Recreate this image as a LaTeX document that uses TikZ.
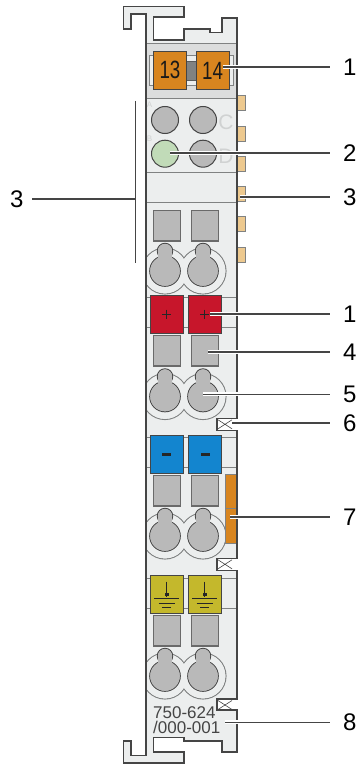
\documentclass[tikz,border=0pt]{standalone}
\usepackage{graphicx}
\usepackage{fontspec}
\setmainfont{Liberation Sans}
\definecolor{bodyc}{HTML}{ECEEEE}
\definecolor{headc}{HTML}{DCDDDD}
\definecolor{linec}{HTML}{454545}
\definecolor{softl}{HTML}{808282}
\definecolor{greyc}{HTML}{B9B9B9}
\definecolor{orangec}{HTML}{D8851F}
\definecolor{redc}{HTML}{C7162B}
\definecolor{bluec}{HTML}{1385CF}
\definecolor{yellowc}{HTML}{C4B82C}
\definecolor{greenc}{HTML}{C1DBB8}
\definecolor{tabc}{HTML}{EDC98F}
\definecolor{letterc}{HTML}{D0D2D2}
\tikzset{
  wall/.style={draw=linec,line width=1.6pt,line join=miter},
  thin sep/.style={draw=softl,line width=1pt},
  termbox/.style={draw=linec,line width=0.9pt},
  greybox/.style={fill=greyc,draw=linec!80,line width=1.1pt},
  lamp/.style={draw=linec,line width=1pt},
  tabbox/.style={fill=tabc,draw=softl,line width=0.8pt},
  lead/.style={draw=linec,line width=1.4pt,preaction={draw=white,line width=3.8pt}},
  callout/.style={font=\fontsize{24}{24}\selectfont,text=black,inner sep=0pt,anchor=west,text height=17pt,text depth=0pt},
  termnum/.style={font=\fontsize{25}{25}\selectfont,text=black!90,inner sep=0pt},
  modnum/.style={font=\fontsize{17}{17}\selectfont,text=linec,inner sep=0pt,anchor=base west},
}
\newcommand{\keyholes}[1]{% circle centre y
  \begin{scope}
    \clip (146,#1-30) rectangle (236,#1+30);
    \foreach \cx in {165,203}{\draw[fill=bodyc,draw=softl,line width=1.1pt] (\cx,#1) circle (23);}
    \fill[bodyc] (165,#1) circle (22.4);
    \fill[bodyc] (203,#1) circle (22.4);
  \end{scope}
  \foreach \cx in {165,203}{
    \draw[lamp,fill=greyc] (\cx,#1) circle (15.3);
    \draw[lamp,fill=greyc] (\cx,#1-20) circle (7.7);
    \fill[greyc] (\cx,#1) circle (14.8);
    \fill[greyc] (\cx,#1-20) circle (7.2);
    \fill[greyc] (\cx-7.2,#1-20) rectangle (\cx+7.2,#1-12);
  }
}
\newcommand{\squares}[1]{%
  \fill[greybox] (153.3,#1) rectangle (180.3,#1+30.7);
  \fill[greybox] (191.3,#1) rectangle (218.3,#1+30.7);
}
\newcommand{\notchx}[1]{%
  \draw[linec,line width=0.6pt] (218,#1+1.5) -- (232,#1+10.5) (218,#1+10.5) -- (232,#1+1.5);
}
\newcommand{\groundsym}[1]{%
  \draw[black!85,line width=0.9pt] (#1,581.5) -- (#1,596.5);
  \fill[black!85] (#1-1.8,593) rectangle (#1+1.8,596);
  \draw[black!85,line width=1pt] (#1-12.5,598.6) -- (#1+12.5,598.6);
  \draw[black!85,line width=1pt] (#1-8,603) -- (#1+8,603);
  \draw[black!85,line width=1pt] (#1-4.5,607) -- (#1+4.5,607);
}
\begin{document}
\begin{tikzpicture}[x=1pt,y=-1pt]
\useasboundingbox[fill=white] (0,0) rectangle (358,765);
% right tabs
\foreach \ty in {95.7,126,156,186.7,216.7,247.3}{
  \filldraw[tabbox] (236.7,\ty) rectangle (245.7,\ty+15);
}
% body fill
\fill[bodyc]
  (123.3,6.7) -- (184,6.7) -- (184,17.3) -- (153.3,17.3) -- (153.3,40) -- (184,40) -- (184,29.3)
  -- (210,29.3) -- (210,32.7) -- (221.7,32.7) -- (221.7,18) -- (236.7,18)
  -- (236.7,418.3) -- (216.7,418.3) -- (216.7,430.3) -- (236.7,430.3)
  -- (236.7,558.3) -- (216.7,558.3) -- (216.7,570.3) -- (236.7,570.3)
  -- (236.7,699) -- (216.7,699) -- (216.7,710) -- (236.7,710)
  -- (236.7,751.7) -- (221.7,751.7) -- (221.7,740.7) -- (184,740.7) -- (184,737.3) -- (153.3,737.3)
  -- (153.3,751.7) -- (184,751.7) -- (184,762.7) -- (123.3,762.7) -- (123.3,740.7) -- (130.7,740.7)
  -- (130.7,755.3) -- (146,755.3) -- (146,14) -- (130.7,14) -- (130.7,29.3) -- (123.3,29.3) -- cycle;
% header band
\fill[headc] (146,44) rectangle (236.7,98.3);
\draw[thin sep] (146,44) -- (236.7,44);
\draw[thin sep] (146,98.5) -- (236.7,98.5);
\draw[thin sep] (146,172.7) -- (236.7,172.7);
\draw[thin sep] (146,202.7) -- (236.7,202.7);
% horizontal separators
\foreach \ly in {297.3,327.7,437.7,467.7,578,608}{
  \draw[thin sep] (146,\ly) -- (236.7,\ly);
}
% strip behind orange terminals
\draw[fill=bodyc,draw=softl,line width=0.9pt] (149.3,55.7) rectangle (233.3,85);
\draw[fill=softl,draw=softl!70!black,line width=0.6pt] (186.7,61) rectangle (196,80);
% orange terminals
\draw[termbox,fill=orangec] (153.3,51.7) rectangle (186.7,89.3);
\draw[termbox,fill=orangec] (196,51.7) rectangle (229.3,89.3);
\node[termnum] (t13) at (170,70) {\scalebox{0.75}[1]{13}};
\node[termnum] (t14) at (212.5,71) {\scalebox{0.75}[1]{14}};
% LEDs
\node[font=\fontsize{8}{8}\selectfont,text=letterc,inner sep=0pt] (la) at (149.5,105) {A};
\node[font=\fontsize{8}{8}\selectfont,text=letterc,inner sep=0pt] (lb) at (149.5,139) {B};
\node[font=\fontsize{21}{21}\selectfont,text=letterc,inner sep=0pt] (lc) at (226,122) {C};
\node[font=\fontsize{21}{21}\selectfont,text=letterc,inner sep=0pt] (ld) at (226,156) {D};
\draw[lamp,fill=greyc] (165,120) circle (13.5);
\draw[lamp,fill=greyc] (203,120) circle (13.5);
\draw[lamp,fill=greenc] (165,153.7) circle (13.5);
\draw[lamp,fill=greyc] (203,153.7) circle (13.5);
% terminal groups
\squares{210.3}
\keyholes{271}
\squares{335.3}
\keyholes{396.5}
\squares{475.3}
\keyholes{536}
\squares{615.3}
\keyholes{676}
% red
\draw[termbox,fill=redc] (150.3,295.3) rectangle (183.7,333.7);
\draw[termbox,fill=redc] (188.3,295.3) rectangle (221.7,333.7);
\foreach \px in {166.7,204.7}{
  \draw[black!85,line width=1.3pt] (\px-4.5,314.3) -- (\px+4.5,314.3) (\px,309.5) -- (\px,319);
}
% blue
\draw[termbox,fill=bluec] (150.3,435.7) rectangle (183.7,473.3);
\draw[termbox,fill=bluec] (188.3,435.7) rectangle (221.7,473.3);
\foreach \px in {166,205}{
  \fill[black!85] (\px-4.5,453.3) rectangle (\px+4.5,455.5);
}
% yellow
\draw[termbox,fill=yellowc] (150.3,575.7) rectangle (183.7,613.3);
\draw[termbox,fill=yellowc] (188.3,575.7) rectangle (221.7,613.3);
\groundsym{166.7}
\groundsym{204.7}
% side orange marker
\draw[termbox,fill=orangec,draw=softl] (225.7,474.3) rectangle (236.3,543.7);
\draw[softl,line width=0.8pt] (225.7,508.3) -- (236.3,508.3);
% notch crosses
\notchx{418.3}
\notchx{558.3}
\notchx{699}
% outline
\draw[wall]
  (146,14) -- (130.7,14) -- (130.7,29.3) -- (123.3,29.3) -- (123.3,6.7) -- (184,6.7) -- (184,17.3) -- (153.3,17.3) -- (153.3,40) -- (184,40) -- (184,29.3)
  -- (210,29.3) -- (210,32.7) -- (221.7,32.7) -- (221.7,18) -- (236.7,18)
  -- (236.7,418.3) -- (216.7,418.3) -- (216.7,430.3) -- (236.7,430.3)
  -- (236.7,558.3) -- (216.7,558.3) -- (216.7,570.3) -- (236.7,570.3)
  -- (236.7,699) -- (216.7,699) -- (216.7,710) -- (236.7,710)
  -- (236.7,751.7) -- (221.7,751.7) -- (221.7,740.7) -- (184,740.7) -- (184,737.3) -- (153.3,737.3)
  -- (153.3,751.7) -- (184,751.7) -- (184,762.7) -- (123.3,762.7) -- (123.3,740.7) -- (130.7,740.7)
  -- (130.7,755.3) -- (146,755.3) -- cycle;
% module number
\node[modnum] (m1) at (153,718) {750-624};
\node[modnum] (m2) at (153,733.5) {/000-001};
% left bracket
\coordinate (brt) at (135.7,101);
\coordinate (brb) at (135.7,263);
\coordinate (brm) at (135.7,199);
\draw[linec,line width=1.4pt] (brt) -- (brb);
% call-outs
\node[callout] (c1) at (343,67) {1};
\node[callout] (c2) at (343,153) {2};
\node[callout] (c3) at (343,197) {3};
\node[callout] (c1b) at (343,314) {1};
\node[callout] (c4) at (343,352) {4};
\node[callout] (c5) at (343,394.3) {5};
\node[callout] (c6) at (343,423) {6};
\node[callout] (c7) at (343,517) {7};
\node[callout] (c8) at (343,722.3) {8};
\node[callout] (c3l) at (10,199) {3};
\coordinate (s1) at (223,67);
\coordinate (s2) at (170,153);
\coordinate (s3) at (240,197);
\coordinate (s1b) at (210,314);
\coordinate (s4) at (208,352);
\coordinate (s5) at (203,394.3);
\coordinate (s6) at (232,423);
\coordinate (s7) at (230,517);
\coordinate (s8) at (225,722.3);
\coordinate (e1) at (330,67);
\coordinate (e2) at (330,153);
\coordinate (e3) at (330,197);
\coordinate (e1b) at (330,314);
\coordinate (e4) at (330,352);
\coordinate (e5) at (330,394.3);
\coordinate (e6) at (330,423);
\coordinate (e7) at (330,517);
\coordinate (e8) at (330,722.3);
\coordinate (e3l) at (32,199);
\foreach \a/\b in {s1/e1,s2/e2,s3/e3,s1b/e1b,s4/e4,s5/e5,s6/e6,s7/e7,s8/e8}{
  \draw[lead] (\a) -- (\b);
}
\draw[linec,line width=1.4pt] (e3l) -- (brm);
\end{tikzpicture}
\end{document}
